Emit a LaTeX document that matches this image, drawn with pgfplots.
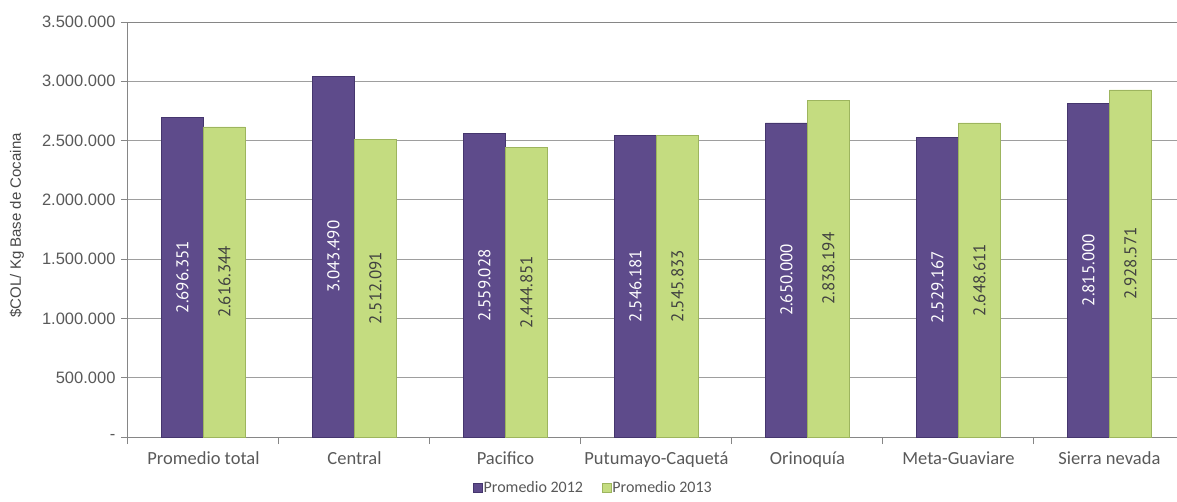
\documentclass[border=0pt]{standalone}
\usepackage{pgfplots}
\pgfplotsset{compat=1.18}
\usepackage{fontspec}
\setmainfont{Liberation Sans}
\newfontfamily\carl{Carlito}
\newfontfamily\dinf{PT Sans}
\definecolor{pur}{HTML}{5E4B8B}
\definecolor{purd}{HTML}{45366E}
\definecolor{grn}{HTML}{C4DC80}
\definecolor{grnd}{HTML}{9DB55E}
\definecolor{txt}{HTML}{595959}
\definecolor{axc}{HTML}{868686}
\begin{document}
\begin{tikzpicture}
\useasboundingbox (0,0) rectangle (1177pt,501pt);
\begin{axis}[
  at={(128pt,64pt)}, anchor=south west,
  scale only axis, width=1057pt, height=415pt,
  ybar=0pt, bar width=42pt,
  xmin=-0.5, xmax=6.5, ymin=0, ymax=3500000,
  axis x line*=bottom, axis y line*=left,
  axis line style={axc, line width=1pt},
  xtick={0,...,6},
  xticklabels={Promedio total,Central,Pacifico,Putumayo-Caquetá,Orinoquía,Meta-Guaviare,Sierra nevada},
  xticklabel style={font=\carl\fontsize{18.5}{20}\selectfont, text=txt, yshift=-4pt},
  major x tick style={draw=none},
  minor xtick={-0.5,0.5,...,6.5},
  minor x tick style={axc, line width=1pt},
  minor tick length=7pt,
  ytick={0,500000,...,3500000},
  yticklabels={-,500.000,1.000.000,1.500.000,2.000.000,2.500.000,3.000.000,3.500.000},
  yticklabel style={font=\fontsize{16.5}{18}\selectfont, text=txt, xshift=-2pt},
  major tick length=7pt,
  tick align=outside,
  major y tick style={axc, line width=1pt},
  ymajorgrids, grid style={axc!80, line width=0.9pt},
  scaled y ticks=false,
  /pgf/number format/assume math mode=true,
  ylabel={\$COL/ Kg Base de Cocaina},
  ylabel style={font=\fontsize{15}{17}\selectfont, text=txt!110, at={(rel axis cs:0,0.51)}, anchor=center, yshift=111pt},
  clip=false,
  legend style={draw=none, at={(0.44,0)}, anchor=center, yshift=-51pt, legend columns=2,
    font=\carl\fontsize{16}{18}\selectfont, text=txt, inner sep=0pt,
    /tikz/every even column/.append style={column sep=18pt},
    nodes={inner sep=1pt}},
  legend image code/.code={\fill[#1] (0pt,-4.5pt) rectangle (9pt,4.5pt);},
  nodes near coords={\pgfmathprintnumber[fixed,precision=0,1000 sep={.}]{\pgfplotspointmeta}},
  visualization depends on={rawy/2 \as \halfy},
  every node near coord/.append style={shift={(axis direction cs:0,-\halfy)}, anchor=center, rotate=90, font=\dinf\fontsize{17}{19}\selectfont},
]
\addplot[fill=pur, draw=purd, every node near coord/.append style={text=white}] coordinates {
(0,2696351) (1,3043490) (2,2559028) (3,2546181) (4,2650000) (5,2529167) (6,2815000)};
\addplot[fill=grn, draw=grnd, every node near coord/.append style={text=black!75}] coordinates {
(0,2616344) (1,2512091) (2,2444851) (3,2545833) (4,2838194) (5,2648611) (6,2928571)};
\draw[axc, line width=1pt] (rel axis cs:0,1) -- (rel axis cs:1,1);
\legend{Promedio 2012,Promedio 2013}
\end{axis}
\end{tikzpicture}
\end{document}
